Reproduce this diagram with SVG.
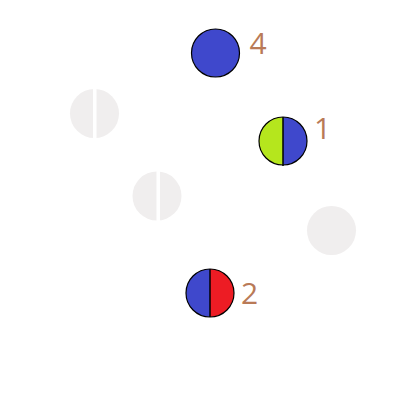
<svg xmlns="http://www.w3.org/2000/svg" width="407" height="403" viewBox="0 0 407 403">
<style>
.lbl{font-family:"Open Sans","DejaVu Sans",sans-serif;font-size:30px;fill:#b97a57}
.ol{stroke:#000;stroke-width:1.2}
.gray{fill:#f0eeee}
.div{stroke:#000;stroke-width:1.5}
</style>
<rect width="407" height="403" fill="#fff"/>
<g id="node4">
<circle cx="215.5" cy="53" r="24" fill="#3f48cc" class="ol"/>
<text x="249.5" y="54" class="lbl">4</text>
</g>
<g id="node1">
<path d="M283 117 A24 24 0 0 0 283 165 Z" fill="#b5e61d"/>
<path d="M283 117 A24 24 0 0 1 283 165 Z" fill="#3f48cc"/>
<circle cx="283" cy="141" r="24" fill="none" class="ol"/>
<line x1="283" y1="117" x2="283" y2="166" class="div"/>
<text x="314" y="139" class="lbl">1</text>
</g>
<g id="nodeA">
<circle cx="94.5" cy="113.5" r="24.5" class="gray"/>
<rect x="93" y="88" width="3.5" height="52" fill="#fff"/>
</g>
<g id="nodeB">
<circle cx="157" cy="196" r="24.5" class="gray"/>
<rect x="156.5" y="170" width="3.5" height="52" fill="#fff"/>
</g>
<g id="nodeC">
<circle cx="331.5" cy="230.5" r="24.5" class="gray"/>
</g>
<g id="node2">
<path d="M210 269 A24 24 0 0 0 210 317 Z" fill="#3f48cc"/>
<path d="M210 269 A24 24 0 0 1 210 317 Z" fill="#ed1c24"/>
<circle cx="210" cy="293" r="24" fill="none" class="ol"/>
<line x1="210" y1="269" x2="210" y2="317" class="div"/>
<text x="241" y="304" class="lbl">2</text>
</g>
<g id="connectors"></g>
</svg>
